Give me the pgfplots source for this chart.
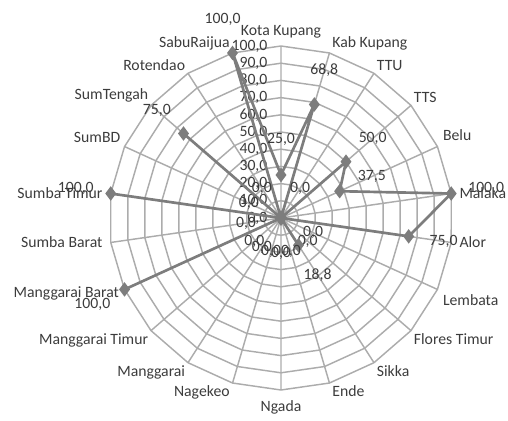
\documentclass[border=0pt]{standalone}
\usepackage{pgfplots}
\pgfplotsset{compat=1.18}
\usepgfplotslibrary{polar}
\usepackage{fontspec}
\setmainfont{Carlito}
\definecolor{gridc}{RGB}{172,172,172}
\definecolor{datac}{RGB}{125,125,125}
\definecolor{txtc}{RGB}{60,60,60}
\tikzset{cat/.style={font=\fontsize{11.8}{13}\selectfont, text=txtc, inner sep=2pt},
  catw/.style={cat, inner sep=6pt}}
\begin{document}
\begin{tikzpicture}
\begin{polaraxis}[
  at={(0,0)}, anchor=origin,
  width=258pt, height=258pt, scale only axis,
  ymin=0, ymax=100,
  xtick={90,73.6364,57.2727,40.9091,24.5455,8.1818,351.8182,335.4545,319.0909,302.7273,286.3636,270,253.6364,237.2727,220.9091,204.5455,188.1818,171.8182,155.4545,139.0909,122.7273,106.3636},
  xticklabels={},
  ytick={0,10,...,100}, yticklabels={},
  xmajorgrids=true, ymajorgrids=false,
  major grid style={gridc, line width=1.1pt},
  axis line style={draw=none},
  major tick length=0pt,
  clip=false,
]
\pgfplotsinvokeforeach{10,20,...,100}{
  \addplot[gridc, line width=1.1pt, no marks, domain=8.1818:368.1818, samples=23] (x,#1);
}
\pgfplotsinvokeforeach{0,10,...,100}{
  \node[anchor=east, xshift=-10pt, font=\fontsize{11.8}{13}\selectfont, text=txtc, inner sep=0pt] at (axis cs:90,#1) {\pgfmathprintnumber[fixed,fixed zerofill,precision=1,use comma,assume math mode=true]{#1}};
}
% category labels
\node[cat, anchor=south, inner sep=6pt] at (axis cs:90,100) {Kota Kupang};
\node[cat, anchor=south west] at (axis cs:73.6364,100) {Kab Kupang};
\node[cat, anchor=south west] at (axis cs:57.2727,100) {TTU};
\node[cat, anchor=south west] at (axis cs:40.9091,100) {TTS};
\node[cat, anchor=south west, inner sep=4pt] at (axis cs:24.5455,100) {Belu};
\node[catw, anchor=west] at (axis cs:8.1818,100) {Malaka};
\node[catw, anchor=west] at (axis cs:351.8182,100) {Alor};
\node[cat, anchor=north west, inner sep=4pt] at (axis cs:335.4545,100) {Lembata};
\node[cat, anchor=north west] at (axis cs:319.0909,100) {Flores Timur};
\node[cat, anchor=north west] at (axis cs:302.7273,100) {Sikka};
\node[cat, anchor=north west] at (axis cs:286.3636,100) {Ende};
\node[cat, anchor=north, inner sep=8pt] at (axis cs:270,100) {Ngada};
\node[cat, anchor=north east] at (axis cs:253.6364,100) {Nagekeo};
\node[cat, anchor=north east] at (axis cs:237.2727,100) {Manggarai};
\node[cat, anchor=north east] at (axis cs:220.9091,100) {Manggarai Timur};
\node[cat, anchor=east, inner sep=4pt, yshift=-3pt] at (axis cs:204.5455,100) {Manggarai Barat};
\node[catw, anchor=east] at (axis cs:188.1818,100) {Sumba Barat};
\node[catw, anchor=east] at (axis cs:171.8182,100) {Sumba Timur};
\node[cat, anchor=south east, inner sep=3pt] at (axis cs:155.4545,100) {SumBD};
\node[cat, anchor=south east] at (axis cs:139.0909,100) {SumTengah};
\node[cat, anchor=south east] at (axis cs:122.7273,100) {Rotendao};
\node[cat, anchor=south east] at (axis cs:106.3636,100) {SabuRaijua};
% data
\addplot[datac, line width=2pt, mark=diamond*, mark size=3.8pt,
  mark options={fill=datac, draw=datac},
  nodes near coords,
  point meta=explicit,
  visualization depends on={x \as \ang},
  every node near coord/.append style={anchor=center, shift={(\ang:26.5pt)}, font=\fontsize{11.8}{13}\selectfont, text=txtc,
    /pgf/number format/.cd, fixed, fixed zerofill, precision=1, use comma, assume math mode=true},
] coordinates {
  (90,25.0) [25.0]
  (73.6364,68.8) [68.8]
  (57.2727,0) [0]
  (40.9091,50.0) [50.0]
  (24.5455,37.5) [37.5]
  (8.1818,100) [100]
  (351.8182,75.0) [75.0]
  (335.4545,0) [0]
  (319.0909,0) [0]
  (302.7273,18.8) [18.8]
  (286.3636,0) [0]
  (270,0) [0]
  (253.6364,0) [0]
  (237.2727,0) [0]
  (220.9091,0) [0]
  (204.5455,100) [100]
  (188.1818,0) [0]
  (171.8182,100) [100]
  (155.4545,0) [0]
  (139.0909,75.0) [75.0]
  (122.7273,0) [0]
  (106.3636,100) [100]
};
\addplot[datac, line width=2pt, no marks] coordinates {(106.3636,100) (90,25.0)};
\coordinate (c) at (axis cs:0,0);
\end{polaraxis}
\pgfresetboundingbox
\path[use as bounding box] (c) ++(-210.75pt,-152.25pt) rectangle ++(381pt,315.75pt);
\end{tikzpicture}
\end{document}
